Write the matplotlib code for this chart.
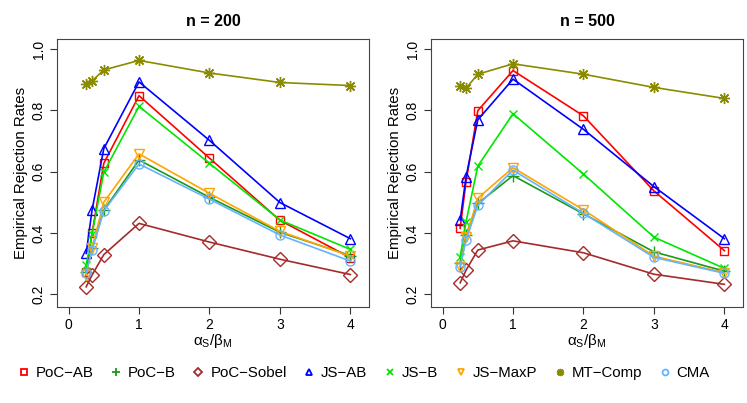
import matplotlib
matplotlib.use('Agg')
import matplotlib.pyplot as plt
from matplotlib.lines import Line2D

plt.rcParams['font.family'] = ['Liberation Sans', 'DejaVu Sans']
plt.rcParams['mathtext.fontset'] = 'custom'
plt.rcParams['mathtext.rm'] = 'Liberation Sans'
plt.rcParams['mathtext.it'] = 'Liberation Sans:italic'

# ratio alpha_S / beta_M
ratio = [0.25, 1/3, 0.5, 1, 2, 3, 4]

methods = ['PoC\u2212AB', 'PoC\u2212B', 'PoC\u2212Sobel', 'JS\u2212AB',
           'JS\u2212B', 'JS\u2212MaxP', 'MT\u2212Comp', 'CMA']

# n = 200
n200_poc_ab = [0.273, 0.398, 0.627, 0.848, 0.644, 0.441, 0.319]
n200_poc_b = [0.273, 0.349, 0.474, 0.638, 0.516, 0.402, 0.326]
n200_poc_sobel = [0.224, 0.262, 0.329, 0.431, 0.370, 0.314, 0.264]
n200_js_ab = [0.333, 0.474, 0.675, 0.893, 0.702, 0.499, 0.381]
n200_js_b = [0.295, 0.396, 0.598, 0.813, 0.627, 0.442, 0.346]
n200_js_maxp = [0.262, 0.352, 0.500, 0.658, 0.529, 0.405, 0.324]
n200_mt_comp = [0.886, 0.896, 0.932, 0.963, 0.922, 0.891, 0.881]
n200_cma = [0.270, 0.344, 0.472, 0.625, 0.510, 0.393, 0.308]

# n = 500
n500_poc_ab = [0.415, 0.567, 0.799, 0.930, 0.782, 0.537, 0.342]
n500_poc_b = [0.302, 0.393, 0.496, 0.587, 0.462, 0.338, 0.275]
n500_poc_sobel = [0.237, 0.278, 0.344, 0.374, 0.335, 0.265, 0.232]
n500_js_ab = [0.442, 0.583, 0.769, 0.902, 0.738, 0.551, 0.381]
n500_js_b = [0.322, 0.436, 0.618, 0.789, 0.592, 0.386, 0.284]
n500_js_maxp = [0.290, 0.385, 0.513, 0.613, 0.475, 0.324, 0.270]
n500_mt_comp = [0.878, 0.872, 0.918, 0.952, 0.918, 0.875, 0.839]
n500_cma = [0.289, 0.376, 0.490, 0.605, 0.464, 0.320, 0.268]

panels = [
    ('n = 200', [n200_poc_ab, n200_poc_b, n200_poc_sobel, n200_js_ab,
                 n200_js_b, n200_js_maxp, n200_mt_comp, n200_cma]),
    ('n = 500', [n500_poc_ab, n500_poc_b, n500_poc_sobel, n500_js_ab,
                 n500_js_b, n500_js_maxp, n500_mt_comp, n500_cma]),
]

colors = ['#FF0000', '#1A9A1A', '#A52A2A', '#0000FF',
          '#00E600', '#FFA500', '#8B8B00', '#66B3FF']
markers = ['s', '+', 'D', '^', 'x', 'v', (8, 2, 0), 'o']
msizes = [6, 8, 7, 7.5, 6, 7.5, 8, 6.5]

W, H = 747, 403
fig = plt.figure(figsize=(W / 100, H / 100), dpi=100)

lefts = [57, 431]
for (title, series), left in zip(panels, lefts):
    ax = fig.add_axes([left / W, (H - 307) / H, 312 / W, 268 / H])
    for vals, c, m, ms in zip(series, colors, markers, msizes):
        ax.plot(ratio, vals, color=c, marker=m, ms=ms, mfc='none', mec=c,
                mew=1.0, lw=1.2)
    ax.set_xlim(-0.164, 4.264)
    ax.set_ylim(0.158, 1.033)
    ax.set_xticks([0, 1, 2, 3, 4])
    ax.set_yticks([0.2, 0.4, 0.6, 0.8, 1.0])
    ax.set_yticklabels(['0.2', '0.4', '0.6', '0.8', '1.0'])
    ax.tick_params(direction='out', length=5, width=0.8, labelsize=10,
                   color='#333333', pad=3)
    ax.tick_params(axis='y', labelrotation=90)
    for lab in ax.get_yticklabels():
        lab.set_va('center')
    for s in ax.spines.values():
        s.set_color('#444444')
        s.set_linewidth(0.8)
    ax.set_title(title, fontsize=11.5, fontweight='bold', pad=9)
    ax.set_ylabel('Empirical Rejection Rates', fontsize=10.8, labelpad=3)
    ax.set_xlabel(r'$\mathrm{\alpha_S/\beta_M}$', fontsize=11, labelpad=0)

handles = [Line2D([], [], ls='none', marker=m, color=c, mfc='none', mec=c,
                  ms=ms * 0.65, mew=1.3)
           for c, m, ms in zip(colors, markers, msizes)]
fig.legend(handles, methods, loc='center', bbox_to_anchor=(0.487, 1 - 373 / H),
           ncol=8, frameon=False, fontsize=10.8, handlelength=0.8,
           handletextpad=0.4, columnspacing=1.1)

fig.savefig('out.png', dpi=100)
